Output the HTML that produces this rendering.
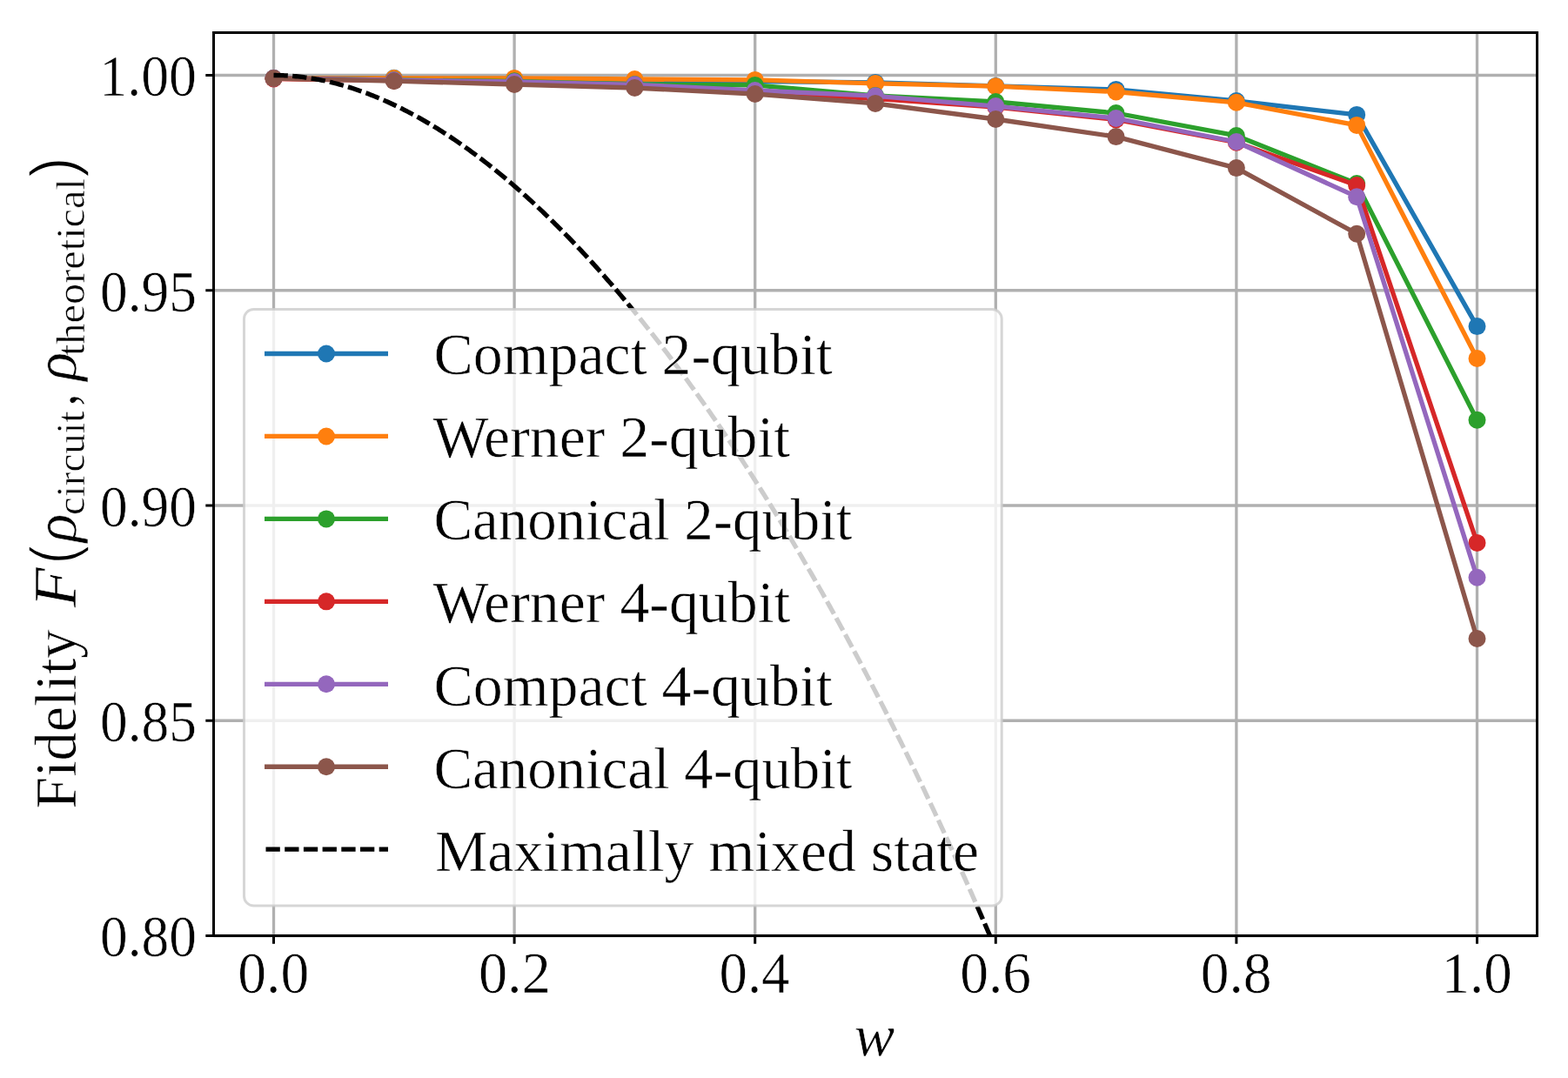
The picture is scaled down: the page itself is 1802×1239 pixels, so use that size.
<!DOCTYPE html><html><head><meta charset="utf-8"><title>Fidelity plot</title>
<style>html,body{margin:0;padding:0;background:#fff;}svg{display:block;}text{font-family:"Liberation Serif",serif;fill:#000;stroke:#fff;stroke-width:0.6px;}</style></head><body>
<svg width="1802" height="1239" viewBox="0 0 1802 1239">
<rect x="0" y="0" width="1802" height="1239" fill="#fff"/>
<defs><clipPath id="ax"><rect x="245.5" y="37.5" width="1521.0" height="1038.0"/></clipPath></defs>
<path d="M314.50 37.5V1075.5M591.10 37.5V1075.5M867.70 37.5V1075.5M1144.30 37.5V1075.5M1420.90 37.5V1075.5M1697.50 37.5V1075.5M245.5 1075.50H1766.5M245.5 828.25H1766.5M245.5 581.00H1766.5M245.5 333.75H1766.5M245.5 86.50H1766.5" stroke="#b0b0b0" stroke-width="3.3" fill="none"/>
<g clip-path="url(#ax)">
<polyline points="314.50,90.00 452.80,89.80 591.10,90.50 729.40,92.00 867.70,93.50 1006.00,94.90 1144.30,98.90 1282.60,102.90 1420.90,116.00 1559.20,131.90 1697.50,375.10" fill="none" stroke="#1f77b4" stroke-width="5.3" stroke-linejoin="round" stroke-linecap="butt"/>
<circle cx="314.50" cy="90.00" r="10.0" fill="#1f77b4"/>
<circle cx="452.80" cy="89.80" r="10.0" fill="#1f77b4"/>
<circle cx="591.10" cy="90.50" r="10.0" fill="#1f77b4"/>
<circle cx="729.40" cy="92.00" r="10.0" fill="#1f77b4"/>
<circle cx="867.70" cy="93.50" r="10.0" fill="#1f77b4"/>
<circle cx="1006.00" cy="94.90" r="10.0" fill="#1f77b4"/>
<circle cx="1144.30" cy="98.90" r="10.0" fill="#1f77b4"/>
<circle cx="1282.60" cy="102.90" r="10.0" fill="#1f77b4"/>
<circle cx="1420.90" cy="116.00" r="10.0" fill="#1f77b4"/>
<circle cx="1559.20" cy="131.90" r="10.0" fill="#1f77b4"/>
<circle cx="1697.50" cy="375.10" r="10.0" fill="#1f77b4"/>
<polyline points="314.50,90.00 452.80,90.00 591.10,89.90 729.40,91.00 867.70,91.90 1006.00,95.90 1144.30,99.20 1282.60,105.50 1420.90,117.80 1559.20,143.90 1697.50,412.00" fill="none" stroke="#ff7f0e" stroke-width="5.3" stroke-linejoin="round" stroke-linecap="butt"/>
<circle cx="314.50" cy="90.00" r="10.0" fill="#ff7f0e"/>
<circle cx="452.80" cy="90.00" r="10.0" fill="#ff7f0e"/>
<circle cx="591.10" cy="89.90" r="10.0" fill="#ff7f0e"/>
<circle cx="729.40" cy="91.00" r="10.0" fill="#ff7f0e"/>
<circle cx="867.70" cy="91.90" r="10.0" fill="#ff7f0e"/>
<circle cx="1006.00" cy="95.90" r="10.0" fill="#ff7f0e"/>
<circle cx="1144.30" cy="99.20" r="10.0" fill="#ff7f0e"/>
<circle cx="1282.60" cy="105.50" r="10.0" fill="#ff7f0e"/>
<circle cx="1420.90" cy="117.80" r="10.0" fill="#ff7f0e"/>
<circle cx="1559.20" cy="143.90" r="10.0" fill="#ff7f0e"/>
<circle cx="1697.50" cy="412.00" r="10.0" fill="#ff7f0e"/>
<polyline points="314.50,90.00 452.80,92.00 591.10,93.30 729.40,97.00 867.70,97.90 1006.00,109.90 1144.30,117.00 1282.60,130.00 1420.90,155.95 1559.20,211.00 1697.50,482.80" fill="none" stroke="#2ca02c" stroke-width="5.3" stroke-linejoin="round" stroke-linecap="butt"/>
<circle cx="314.50" cy="90.00" r="10.0" fill="#2ca02c"/>
<circle cx="452.80" cy="92.00" r="10.0" fill="#2ca02c"/>
<circle cx="591.10" cy="93.30" r="10.0" fill="#2ca02c"/>
<circle cx="729.40" cy="97.00" r="10.0" fill="#2ca02c"/>
<circle cx="867.70" cy="97.90" r="10.0" fill="#2ca02c"/>
<circle cx="1006.00" cy="109.90" r="10.0" fill="#2ca02c"/>
<circle cx="1144.30" cy="117.00" r="10.0" fill="#2ca02c"/>
<circle cx="1282.60" cy="130.00" r="10.0" fill="#2ca02c"/>
<circle cx="1420.90" cy="155.95" r="10.0" fill="#2ca02c"/>
<circle cx="1559.20" cy="211.00" r="10.0" fill="#2ca02c"/>
<circle cx="1697.50" cy="482.80" r="10.0" fill="#2ca02c"/>
<polyline points="314.50,90.50 452.80,92.50 591.10,95.00 729.40,98.50 867.70,105.00 1006.00,113.50 1144.30,123.00 1282.60,137.40 1420.90,163.70 1559.20,213.10 1697.50,623.90" fill="none" stroke="#d62728" stroke-width="5.3" stroke-linejoin="round" stroke-linecap="butt"/>
<circle cx="314.50" cy="90.50" r="10.0" fill="#d62728"/>
<circle cx="452.80" cy="92.50" r="10.0" fill="#d62728"/>
<circle cx="591.10" cy="95.00" r="10.0" fill="#d62728"/>
<circle cx="729.40" cy="98.50" r="10.0" fill="#d62728"/>
<circle cx="867.70" cy="105.00" r="10.0" fill="#d62728"/>
<circle cx="1006.00" cy="113.50" r="10.0" fill="#d62728"/>
<circle cx="1144.30" cy="123.00" r="10.0" fill="#d62728"/>
<circle cx="1282.60" cy="137.40" r="10.0" fill="#d62728"/>
<circle cx="1420.90" cy="163.70" r="10.0" fill="#d62728"/>
<circle cx="1559.20" cy="213.10" r="10.0" fill="#d62728"/>
<circle cx="1697.50" cy="623.90" r="10.0" fill="#d62728"/>
<polyline points="314.50,89.70 452.80,92.20 591.10,94.00 729.40,97.30 867.70,104.00 1006.00,110.20 1144.30,122.10 1282.60,136.00 1420.90,163.00 1559.20,226.20 1697.50,663.80" fill="none" stroke="#9467bd" stroke-width="5.3" stroke-linejoin="round" stroke-linecap="butt"/>
<circle cx="314.50" cy="89.70" r="10.0" fill="#9467bd"/>
<circle cx="452.80" cy="92.20" r="10.0" fill="#9467bd"/>
<circle cx="591.10" cy="94.00" r="10.0" fill="#9467bd"/>
<circle cx="729.40" cy="97.30" r="10.0" fill="#9467bd"/>
<circle cx="867.70" cy="104.00" r="10.0" fill="#9467bd"/>
<circle cx="1006.00" cy="110.20" r="10.0" fill="#9467bd"/>
<circle cx="1144.30" cy="122.10" r="10.0" fill="#9467bd"/>
<circle cx="1282.60" cy="136.00" r="10.0" fill="#9467bd"/>
<circle cx="1420.90" cy="163.00" r="10.0" fill="#9467bd"/>
<circle cx="1559.20" cy="226.20" r="10.0" fill="#9467bd"/>
<circle cx="1697.50" cy="663.80" r="10.0" fill="#9467bd"/>
<polyline points="314.50,90.00 452.80,93.20 591.10,97.00 729.40,101.00 867.70,108.00 1006.00,118.90 1144.30,137.00 1282.60,157.10 1420.90,193.10 1559.20,268.70 1697.50,734.00" fill="none" stroke="#8c564b" stroke-width="5.3" stroke-linejoin="round" stroke-linecap="butt"/>
<circle cx="314.50" cy="90.00" r="10.0" fill="#8c564b"/>
<circle cx="452.80" cy="93.20" r="10.0" fill="#8c564b"/>
<circle cx="591.10" cy="97.00" r="10.0" fill="#8c564b"/>
<circle cx="729.40" cy="101.00" r="10.0" fill="#8c564b"/>
<circle cx="867.70" cy="108.00" r="10.0" fill="#8c564b"/>
<circle cx="1006.00" cy="118.90" r="10.0" fill="#8c564b"/>
<circle cx="1144.30" cy="137.00" r="10.0" fill="#8c564b"/>
<circle cx="1282.60" cy="157.10" r="10.0" fill="#8c564b"/>
<circle cx="1420.90" cy="193.10" r="10.0" fill="#8c564b"/>
<circle cx="1559.20" cy="268.70" r="10.0" fill="#8c564b"/>
<circle cx="1697.50" cy="734.00" r="10.0" fill="#8c564b"/>
<polyline points="314.50,86.50 316.64,86.51 318.79,86.54 320.93,86.58 323.07,86.64 325.22,86.72 327.36,86.82 329.51,86.93 331.65,87.06 333.79,87.21 335.94,87.38 338.08,87.56 340.22,87.76 342.37,87.98 344.51,88.21 346.65,88.46 348.80,88.73 350.94,89.01 353.09,89.31 355.23,89.63 357.37,89.96 359.52,90.31 361.66,90.67 363.80,91.06 365.95,91.45 368.09,91.87 370.23,92.30 372.38,92.74 374.52,93.21 376.67,93.68 378.81,94.18 380.95,94.69 383.10,95.21 385.24,95.75 387.38,96.31 389.53,96.88 391.67,97.47 393.82,98.07 395.96,98.69 398.10,99.32 400.25,99.97 402.39,100.63 404.53,101.31 406.68,102.01 408.82,102.72 410.96,103.44 413.11,104.18 415.25,104.93 417.40,105.70 419.54,106.48 421.68,107.28 423.83,108.09 425.97,108.92 428.11,109.76 430.26,110.62 432.40,111.49 434.54,112.38 436.69,113.28 438.83,114.19 440.98,115.12 443.12,116.06 445.26,117.02 447.41,117.99 449.55,118.98 451.69,119.98 453.84,120.99 455.98,122.02 458.12,123.06 460.27,124.12 462.41,125.19 464.56,126.27 466.70,127.37 468.84,128.48 470.99,129.61 473.13,130.75 475.27,131.90 477.42,133.07 479.56,134.25 481.70,135.44 483.85,136.65 485.99,137.87 488.14,139.10 490.28,140.35 492.42,141.61 494.57,142.89 496.71,144.17 498.85,145.48 501.00,146.79 503.14,148.12 505.28,149.46 507.43,150.82 509.57,152.18 511.72,153.57 513.86,154.96 516.00,156.37 518.15,157.79 520.29,159.22 522.43,160.67 524.58,162.13 526.72,163.60 528.87,165.09 531.01,166.59 533.15,168.10 535.30,169.62 537.44,171.16 539.58,172.71 541.73,174.27 543.87,175.85 546.01,177.44 548.16,179.04 550.30,180.65 552.45,182.28 554.59,183.92 556.73,185.57 558.88,187.23 561.02,188.91 563.16,190.60 565.31,192.30 567.45,194.02 569.59,195.75 571.74,197.49 573.88,199.24 576.03,201.00 578.17,202.78 580.31,204.57 582.46,206.37 584.60,208.19 586.74,210.01 588.89,211.85 591.03,213.70 593.17,215.57 595.32,217.44 597.46,219.33 599.61,221.23 601.75,223.15 603.89,225.07 606.04,227.01 608.18,228.96 610.32,230.92 612.47,232.89 614.61,234.88 616.75,236.88 618.90,238.89 621.04,240.91 623.19,242.94 625.33,244.99 627.47,247.05 629.62,249.12 631.76,251.20 633.90,253.30 636.05,255.40 638.19,257.52 640.33,259.65 642.48,261.79 644.62,263.95 646.77,266.12 648.91,268.29 651.05,270.48 653.20,272.69 655.34,274.90 657.48,277.13 659.63,279.36 661.77,281.61 663.91,283.87 666.06,286.15 668.20,288.43 670.35,290.73 672.49,293.04 674.63,295.36 676.78,297.69 678.92,300.03 681.06,302.39 683.21,304.76 685.35,307.14 687.50,309.53 689.64,311.93 691.78,314.35 693.93,316.77 696.07,319.21 698.21,321.66 700.36,324.12 702.50,326.59 704.64,329.08 706.79,331.58 708.93,334.08 711.08,336.60 713.22,339.13 715.36,341.68 717.51,344.23 719.65,346.80 721.79,349.38 723.94,351.97 726.08,354.57 728.22,357.18 730.37,359.80 732.51,362.44 734.66,365.09 736.80,367.75 738.94,370.42 741.09,373.10 743.23,375.80 745.37,378.50 747.52,381.22 749.66,383.95 751.80,386.69 753.95,389.44 756.09,392.20 758.24,394.98 760.38,397.77 762.52,400.56 764.67,403.37 766.81,406.20 768.95,409.03 771.10,411.87 773.24,414.73 775.38,417.60 777.53,420.48 779.67,423.37 781.82,426.27 783.96,429.18 786.10,432.11 788.25,435.05 790.39,438.00 792.53,440.96 794.68,443.93 796.82,446.91 798.96,449.91 801.11,452.92 803.25,455.93 805.40,458.96 807.54,462.01 809.68,465.06 811.83,468.12 813.97,471.20 816.11,474.29 818.26,477.39 820.40,480.50 822.55,483.62 824.69,486.76 826.83,489.90 828.98,493.06 831.12,496.23 833.26,499.41 835.41,502.60 837.55,505.81 839.69,509.02 841.84,512.25 843.98,515.49 846.13,518.74 848.27,522.00 850.41,525.28 852.56,528.56 854.70,531.86 856.84,535.17 858.99,538.49 861.13,541.82 863.27,545.17 865.42,548.52 867.56,551.89 869.71,555.27 871.85,558.66 873.99,562.07 876.14,565.48 878.28,568.91 880.42,572.35 882.57,575.80 884.71,579.26 886.85,582.73 889.00,586.22 891.14,589.72 893.29,593.23 895.43,596.75 897.57,600.28 899.72,603.83 901.86,607.38 904.00,610.95 906.15,614.53 908.29,618.13 910.43,621.73 912.58,625.35 914.72,628.98 916.87,632.62 919.01,636.27 921.15,639.94 923.30,643.61 925.44,647.30 927.58,651.00 929.73,654.72 931.87,658.44 934.01,662.18 936.16,665.93 938.30,669.69 940.45,673.46 942.59,677.25 944.73,681.04 946.88,684.85 949.02,688.68 951.16,692.51 953.31,696.36 955.45,700.22 957.60,704.09 959.74,707.97 961.88,711.87 964.03,715.78 966.17,719.70 968.31,723.63 970.46,727.57 972.60,731.53 974.74,735.50 976.89,739.48 979.03,743.48 981.18,747.49 983.32,751.51 985.46,755.54 987.61,759.58 989.75,763.64 991.89,767.71 994.04,771.79 996.18,775.89 998.32,780.00 1000.47,784.12 1002.61,788.25 1004.76,792.40 1006.90,796.55 1009.04,800.73 1011.19,804.91 1013.33,809.11 1015.47,813.32 1017.62,817.54 1019.76,821.77 1021.90,826.02 1024.05,830.28 1026.19,834.56 1028.34,838.85 1030.48,843.15 1032.62,847.46 1034.77,851.79 1036.91,856.13 1039.05,860.48 1041.20,864.85 1043.34,869.22 1045.48,873.62 1047.63,878.02 1049.77,882.44 1051.92,886.87 1054.06,891.32 1056.20,895.78 1058.35,900.25 1060.49,904.73 1062.63,909.23 1064.78,913.75 1066.92,918.27 1069.06,922.81 1071.21,927.37 1073.35,931.93 1075.50,936.51 1077.64,941.11 1079.78,945.72 1081.93,950.34 1084.07,954.97 1086.21,959.62 1088.36,964.28 1090.50,968.96 1092.64,973.65 1094.79,978.36 1096.93,983.08 1099.08,987.81 1101.22,992.56 1103.36,997.32 1105.51,1002.09 1107.65,1006.88 1109.79,1011.69 1111.94,1016.51 1114.08,1021.34 1116.23,1026.19 1118.37,1031.05 1120.51,1035.92 1122.66,1040.81 1124.80,1045.72 1126.94,1050.64 1129.09,1055.57 1131.23,1060.52 1133.37,1065.48 1135.52,1070.46 1137.66,1075.46 1139.81,1080.46 1141.95,1085.49 1144.09,1090.53 1146.24,1095.58 1148.38,1100.65 1150.52,1105.73 1152.67,1110.83 1154.81,1115.94 1156.95,1121.07 1159.10,1126.22 1161.24,1131.38 1163.39,1136.55 1165.53,1141.74 1167.67,1146.95 1169.82,1152.17 1171.96,1157.41" fill="none" stroke="#000" stroke-width="5.3" stroke-dasharray="16.3 5.4" stroke-linejoin="round"/>
</g>
<rect x="245.5" y="37.5" width="1521.0" height="1038.0" fill="none" stroke="#000" stroke-width="3.0" stroke-linejoin="miter"/>
<path d="M314.50 1075.5v9.2M591.10 1075.5v9.2M867.70 1075.5v9.2M1144.30 1075.5v9.2M1420.90 1075.5v9.2M1697.50 1075.5v9.2M245.5 1075.50h-9.2M245.5 828.25h-9.2M245.5 581.00h-9.2M245.5 333.75h-9.2M245.5 86.50h-9.2" stroke="#000" stroke-width="3.0" fill="none"/>
<text x="273.34" y="1141.30" font-size="68.7" textLength="81.89" lengthAdjust="spacingAndGlyphs">0.0</text>
<text x="549.90" y="1141.30" font-size="68.7" textLength="82.92" lengthAdjust="spacingAndGlyphs">0.2</text>
<text x="826.57" y="1141.30" font-size="68.7" textLength="80.88" lengthAdjust="spacingAndGlyphs">0.4</text>
<text x="1103.14" y="1141.30" font-size="68.7" textLength="81.89" lengthAdjust="spacingAndGlyphs">0.6</text>
<text x="1379.74" y="1141.30" font-size="68.7" textLength="81.89" lengthAdjust="spacingAndGlyphs">0.8</text>
<text x="1656.48" y="1141.30" font-size="68.7" textLength="81.23" lengthAdjust="spacingAndGlyphs">1.0</text>
<text x="115.03" y="1099.40" font-size="68.7" textLength="110.92" lengthAdjust="spacingAndGlyphs">0.80</text>
<text x="115.03" y="852.15" font-size="68.7" textLength="110.92" lengthAdjust="spacingAndGlyphs">0.85</text>
<text x="115.03" y="604.90" font-size="68.7" textLength="110.92" lengthAdjust="spacingAndGlyphs">0.90</text>
<text x="115.03" y="357.65" font-size="68.7" textLength="110.92" lengthAdjust="spacingAndGlyphs">0.95</text>
<text x="114.30" y="110.40" font-size="68.7" textLength="111.68" lengthAdjust="spacingAndGlyphs">1.00</text>
<rect x="280.5" y="355.5" width="870.7" height="685.5" rx="11" ry="11" fill="#fff" fill-opacity="0.8" stroke="#ccc" stroke-opacity="0.8" stroke-width="3.0"/>
<path d="M304 406.50H446" stroke="#1f77b4" stroke-width="5.3"/>
<circle cx="375" cy="406.50" r="10.0" fill="#1f77b4"/>
<path d="M304 501.45H446" stroke="#ff7f0e" stroke-width="5.3"/>
<circle cx="375" cy="501.45" r="10.0" fill="#ff7f0e"/>
<path d="M304 596.40H446" stroke="#2ca02c" stroke-width="5.3"/>
<circle cx="375" cy="596.40" r="10.0" fill="#2ca02c"/>
<path d="M304 691.35H446" stroke="#d62728" stroke-width="5.3"/>
<circle cx="375" cy="691.35" r="10.0" fill="#d62728"/>
<path d="M304 786.30H446" stroke="#9467bd" stroke-width="5.3"/>
<circle cx="375" cy="786.30" r="10.0" fill="#9467bd"/>
<path d="M304 881.25H446" stroke="#8c564b" stroke-width="5.3"/>
<circle cx="375" cy="881.25" r="10.0" fill="#8c564b"/>
<path d="M305.5 976.20H446" stroke="#000" stroke-width="5.3" stroke-dasharray="16.3 5.4"/>
<text x="498.43" y="429.90" font-size="68.7" textLength="458.24" lengthAdjust="spacingAndGlyphs">Compact 2-qubit</text>
<text x="497.51" y="525.08" font-size="68.7" textLength="410.66" lengthAdjust="spacingAndGlyphs">Werner 2-qubit</text>
<text x="498.48" y="620.26" font-size="68.7" textLength="480.95" lengthAdjust="spacingAndGlyphs">Canonical 2-qubit</text>
<text x="497.51" y="715.44" font-size="68.7" textLength="410.86" lengthAdjust="spacingAndGlyphs">Werner 4-qubit</text>
<text x="498.43" y="810.62" font-size="68.7" textLength="458.24" lengthAdjust="spacingAndGlyphs">Compact 4-qubit</text>
<text x="498.48" y="905.80" font-size="68.7" textLength="480.95" lengthAdjust="spacingAndGlyphs">Canonical 4-qubit</text>
<text x="500.03" y="1000.98" font-size="68.7" textLength="625.06" lengthAdjust="spacingAndGlyphs">Maximally mixed state</text>
<text x="981.60" y="1213.30" font-size="66.67" font-style="italic" textLength="46.80" lengthAdjust="spacingAndGlyphs">w</text>
<g transform="translate(87.3,927.8) rotate(-90)"><text x="-1.93" y="0.00" font-size="68.7" textLength="206.22" lengthAdjust="spacingAndGlyphs">Fidelity</text><text x="229.90" y="0.00" font-size="69.5" font-style="italic" textLength="45.70" lengthAdjust="spacingAndGlyphs">F</text><text x="279.39" y="0.00" font-size="73.5" style="stroke-width:1.5px;font-family:&quot;Liberation Sans&quot;,sans-serif" textLength="21.60" lengthAdjust="spacingAndGlyphs">(</text><text x="304.62" y="0.00" font-size="66.67" font-style="italic" textLength="32.52" lengthAdjust="spacingAndGlyphs">ρ</text><text x="335.90" y="9.40" font-size="46.67" textLength="119.38" lengthAdjust="spacingAndGlyphs">circuit</text><text x="461.37" y="0.00" font-size="68.7" textLength="13.93" lengthAdjust="spacingAndGlyphs">,</text><text x="490.42" y="0.00" font-size="66.67" font-style="italic" textLength="32.52" lengthAdjust="spacingAndGlyphs">ρ</text><text x="518.69" y="9.40" font-size="46.67" textLength="204.07" lengthAdjust="spacingAndGlyphs">theoretical</text><text x="723.80" y="0.00" font-size="73.5" style="stroke-width:1.5px;font-family:&quot;Liberation Sans&quot;,sans-serif" textLength="23.64" lengthAdjust="spacingAndGlyphs">)</text></g>
</svg></body></html>
